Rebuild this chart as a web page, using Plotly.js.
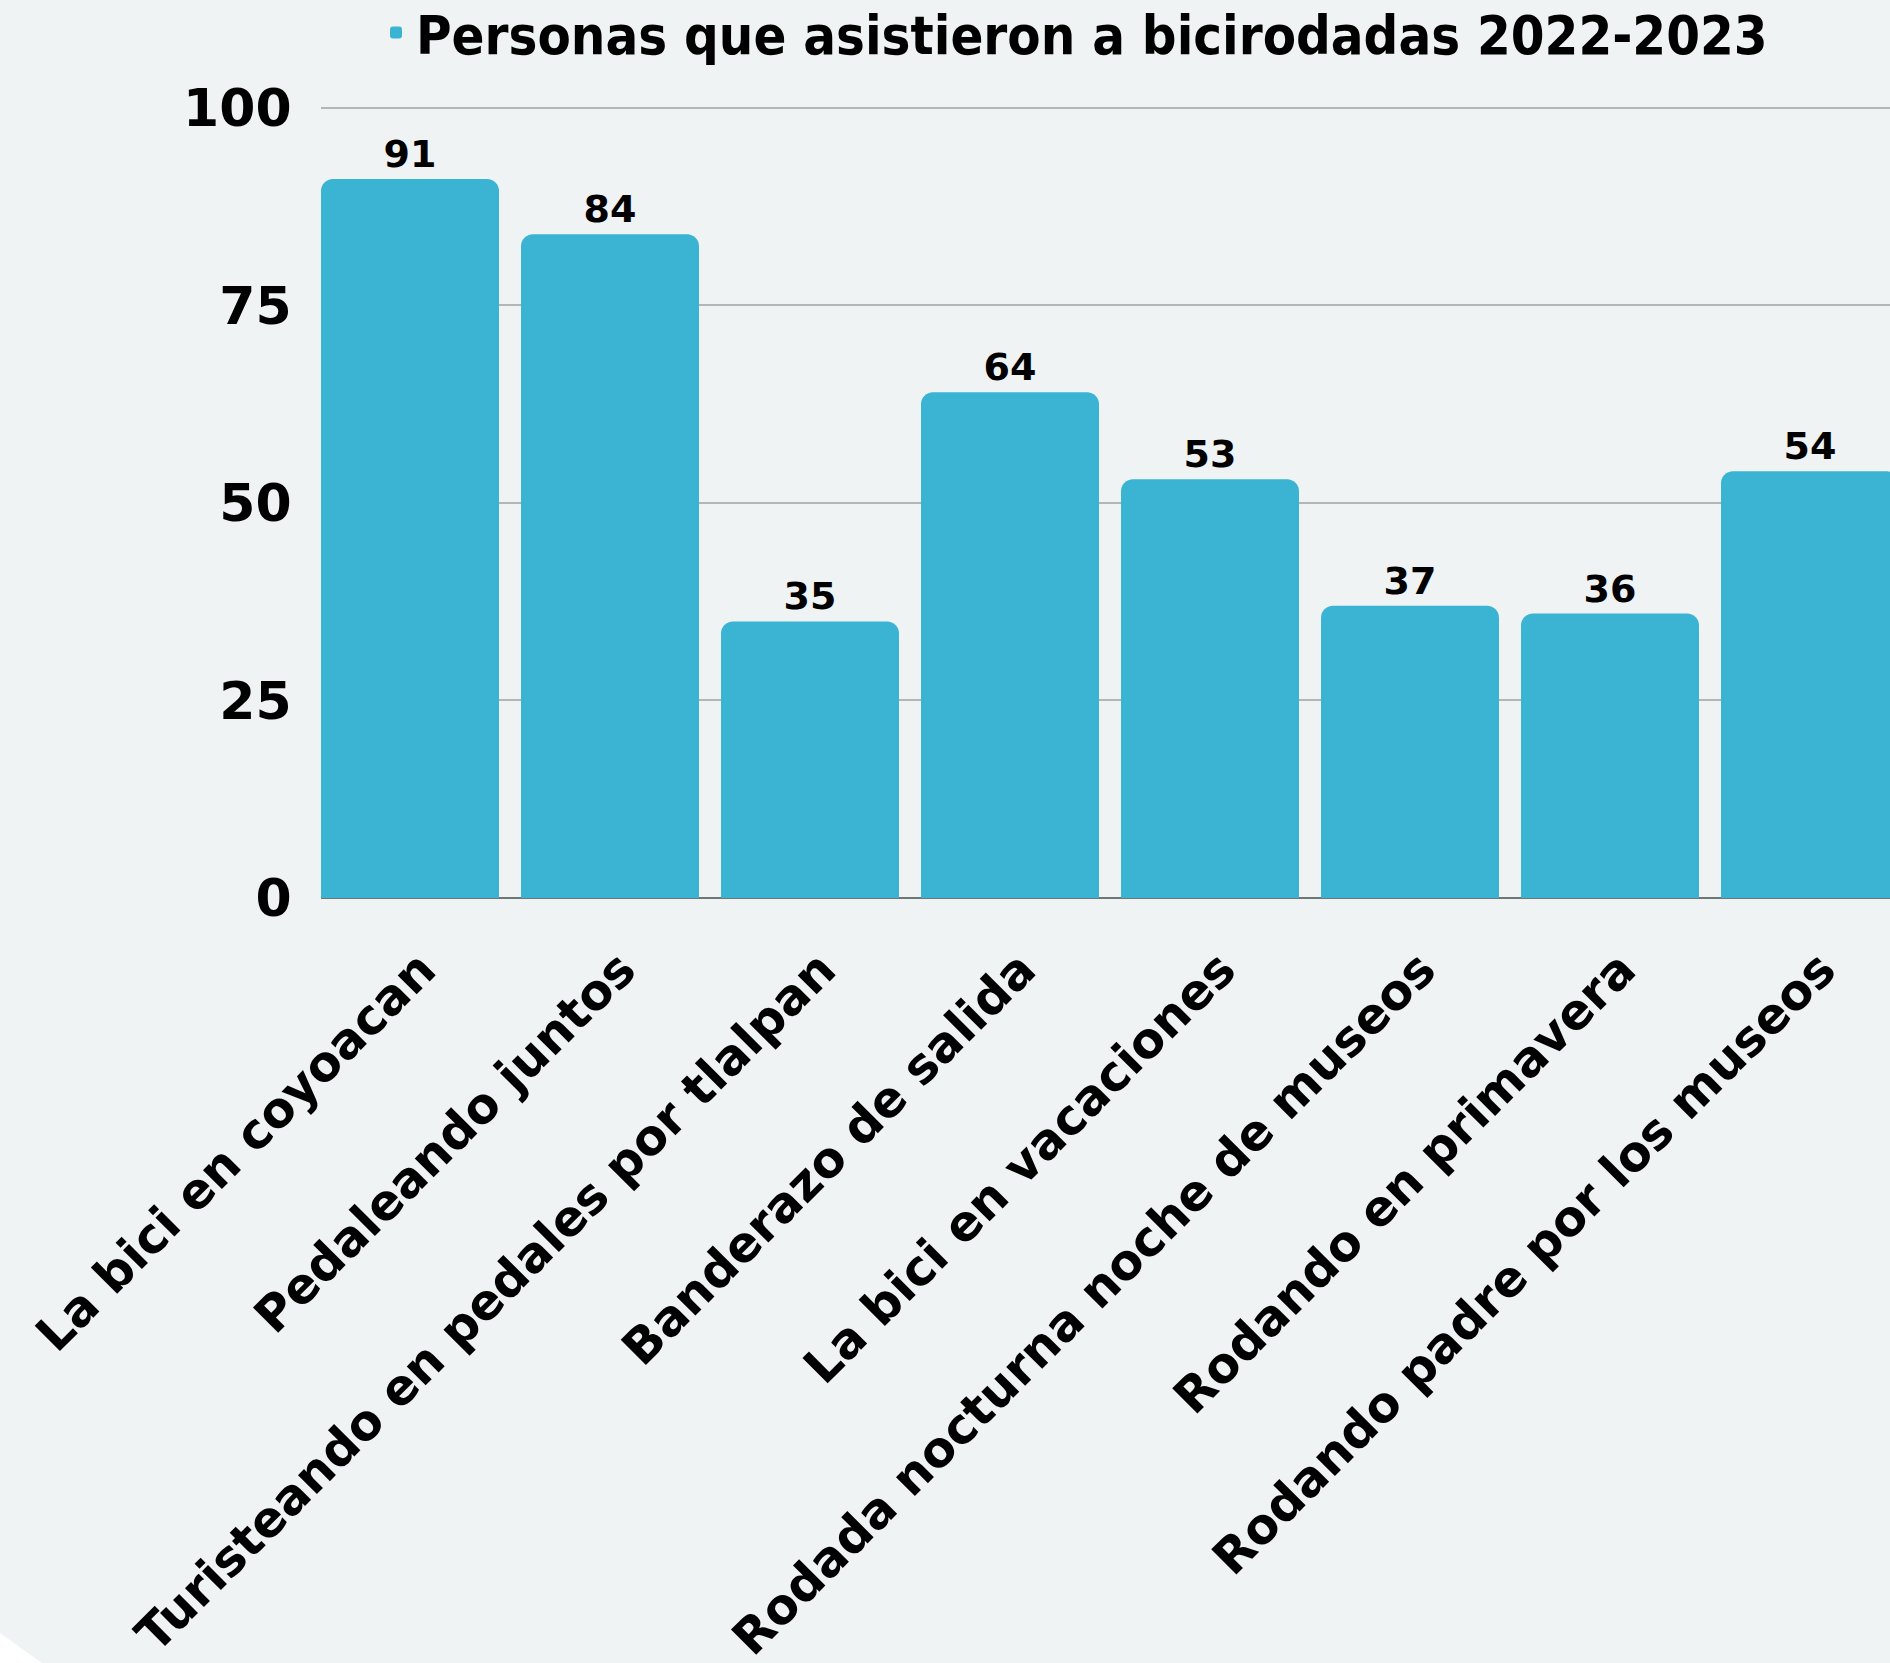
<!DOCTYPE html>
<html>
<head>
<meta charset="utf-8">
<script src="https://cdn.plot.ly/plotly-3.0.1.min.js"></script>
<style>
  html, body { margin: 0; padding: 0; background: #EFF3F4; }
  #chart { width: 1890px; height: 1663px; }
</style>
</head>
<body>
<div id="chart"></div>
<script>
const categories = [
  "La bici en coyoacan",
  "Pedaleando juntos",
  "Turisteando en pedales por tlalpan",
  "Banderazo de salida",
  "La bici en vacaciones",
  "Rodada nocturna noche de museos",
  "Rodando en primavera",
  "Rodando padre por los museos"
];
const asistentes = [91, 84, 35, 64, 53, 37, 36, 54];
const seriesName = "Personas que asistieron a bicirodadas 2022-2023";
const yTicks = [0, 25, 50, 75, 100];

const W = 1890, H = 1663;
const mL = 321, mR = 0, mT = 100, mB = 765;
const plotW = W - mL - mR, plotH = H - mT - mB;
const px2paperX = p => (p - mL) / plotW;
const px2paperY = p => (H - mB - p) / plotH;

const trace = {
  type: 'bar',
  x: categories,
  y: asistentes,
  name: seriesName,
  marker: { color: '#3BB4D4', cornerradius: 12 },
  text: asistentes.map(String),
  textposition: 'outside',
  cliponaxis: false,
  textfont: { family: 'DejaVu Sans', size: 38, weight: 700, color: '#000000' },
  hoverinfo: 'x+y',
  showlegend: true
};

const layout = {
  width: W, height: H,
  paper_bgcolor: '#EFF3F4',
  plot_bgcolor: '#EFF3F4',
  margin: { l: mL, r: mR, t: mT, b: mB, pad: 0, autoexpand: false },
  bargap: 0.11,
  showlegend: true,
  legend: {
    orientation: 'h',
    x: px2paperX(376), xanchor: 'left',
    y: px2paperY(33), yanchor: 'middle',
    font: { family: 'DejaVu Sans Condensed, Liberation Sans Narrow, DejaVu Sans', size: 54, weight: 700, color: '#000000' },
    bgcolor: 'rgba(0,0,0,0)'
  },
  xaxis: {
    type: 'category',
    range: [-0.445, 7.4],
    tickangle: -45,
    tickfont: { family: 'DejaVu Sans', size: 49, weight: 700, color: '#000000' },
    ticks: 'outside', ticklen: 22, tickcolor: 'rgba(0,0,0,0)',
    ticklabelshift: 11,
    showgrid: false,
    showline: false,
    zeroline: false,
    automargin: false
  },
  yaxis: {
    range: [0, 101],
    tickvals: yTicks,
    ticktext: yTicks.map(String),
    tickfont: { family: 'DejaVu Sans', size: 52, weight: 700, color: '#000000' },
    ticks: 'outside', ticklen: 18, tickcolor: 'rgba(0,0,0,0)',
    showgrid: true, gridcolor: '#B3B6B7', gridwidth: 2,
    zeroline: true, zerolinecolor: '#6E7678', zerolinewidth: 2,
    showline: false,
    automargin: false
  },
  shapes: [{
    type: 'path', xref: 'paper', yref: 'paper',
    path: 'M ' + px2paperX(0) + ',' + px2paperY(1633) + ' L ' + px2paperX(42) + ',' + px2paperY(1663) + ' L ' + px2paperX(0) + ',' + px2paperY(1663) + ' Z',
    fillcolor: '#FFFFFF', line: { width: 0 }, layer: 'above'
  }]
};

Plotly.newPlot('chart', [trace], layout, { displayModeBar: false, staticPlot: true });
</script>
</body>
</html>
